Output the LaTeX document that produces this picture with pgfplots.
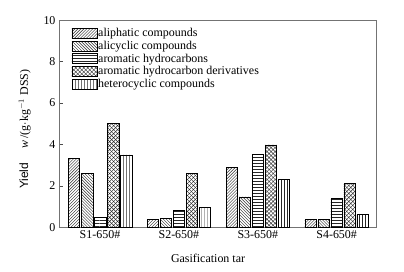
\documentclass[border=0pt]{standalone}
\usepackage{fontspec}
\setmainfont{Liberation Serif}
\newfontfamily\sansf{Liberation Sans}
\usepackage{pgfplots}
\pgfplotsset{compat=1.18}
\usetikzlibrary{patterns}
\pgfdeclarepatternformonly{diagcross}{\pgfqpoint{-1pt}{-1pt}}{\pgfqpoint{5pt}{5pt}}{\pgfqpoint{4pt}{4pt}}{%
  \pgfsetlinewidth{0.4pt}%
  \pgfpathmoveto{\pgfqpoint{0pt}{0pt}}\pgfpathlineto{\pgfqpoint{4.1pt}{4.1pt}}%
  \pgfpathmoveto{\pgfqpoint{0pt}{4pt}}\pgfpathlineto{\pgfqpoint{4.1pt}{-0.1pt}}%
  \pgfusepath{stroke}}
\pgfplotsset{
  mybar/.style={draw=black, line width=0.5pt, pattern=#1, pattern color=black!85},
}
\begin{document}
\begin{tikzpicture}
\begin{axis}[
  scale only axis, width=317bp, height=207bp,
  ybar=1.5bp, bar width=11.5bp,
  legend image code/.code={\draw[#1,/tikz/bar shift=0pt] (0bp,-5bp) rectangle (25bp,5bp);},
  xmin=-0.52, xmax=3.5, ymin=0, ymax=10,
  xtick={0,1,2,3}, xticklabels={S1-650\#,S2-650\#,S3-650\#,S4-650\#},
  ytick={0,2,4,6,8,10},
  tick align=inside, ytick pos=left, major tick length=4bp,
  x tick style={draw=none},
  axis line style={black!55},
  y tick style={black!70},
  ticklabel style={font=\fontsize{12}{12}\selectfont},
  /pgf/number format/assume math mode=true,
  xlabel={Gasification tar},
  xlabel style={font=\fontsize{12}{12}\selectfont, at={(axis description cs:0.47,-0.15)}, anchor=center},
  ylabel={{\sansf Yield}\hspace{1.2em}\textit{w}\,/(g$\cdot$kg$^{-1}$ DSS)},
  ylabel style={font=\fontsize{12}{12}\selectfont, at={(axis description cs:-0.108,0.473)}, anchor=center},
  legend style={at={(axis description cs:0.03,0.975)}, anchor=north west, draw=none, fill=none,
    font=\fontsize{12}{12}\selectfont, row sep=0.9bp, nodes={inner sep=1bp}},
  legend cell align=left,
  clip=false,
]
\addplot[mybar=north east lines] coordinates {(0,3.33) (1,0.36) (2,2.90) (3,0.36)};
\addplot[mybar=north west lines] coordinates {(0,2.58) (1,0.44) (2,1.46) (3,0.36)};
\addplot[mybar=horizontal lines] coordinates {(0,0.47) (1,0.84) (2,3.54) (3,1.41)};
\addplot[mybar=diagcross] coordinates {(0,5.02) (1,2.61) (2,3.97) (3,2.13)};
\addplot[mybar=vertical lines] coordinates {(0,3.49) (1,0.95) (2,2.32) (3,0.60)};
\legend{aliphatic compounds, alicyclic compounds, aromatic hydrocarbons, aromatic hydrocarbon derivatives, heterocyclic compounds}
\path (axis description cs:-0.186,-0.2126) rectangle (axis description cs:1.088,1.097);
\end{axis}
\end{tikzpicture}
\end{document}
